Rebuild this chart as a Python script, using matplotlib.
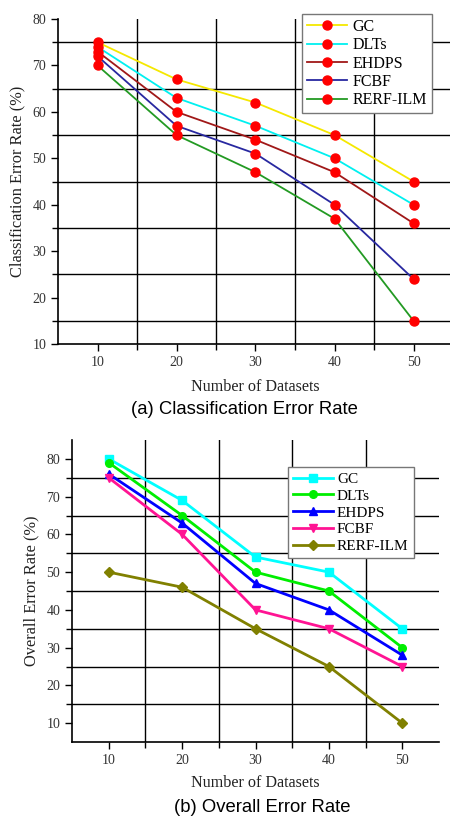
import matplotlib
matplotlib.use("Agg")
import matplotlib.pyplot as plt

datasets = [10, 20, 30, 40, 50]

# (a) Classification error rate
a_names = ["GC", "DLTs", "EHDPS", "FCBF", "RERF-ILM"]
a_gc = [75, 67, 62, 55, 45]
a_dlts = [74, 63, 57, 50, 40]
a_ehdps = [73, 60, 54, 47, 36]
a_fcbf = [72, 57, 51, 40, 24]
a_rerf = [70, 55, 47, 37, 15]
a_colors = ["#f5e800", "#00f0f0", "#a01818", "#2828a0", "#239a23"]

# (b) Overall error rate
b_names = ["GC", "DLTs", "EHDPS", "FCBF", "RERF-ILM"]
b_gc = [80, 69, 54, 50, 35]
b_dlts = [79, 65, 50, 45, 30]
b_ehdps = [76, 63, 47, 40, 28]
b_fcbf = [75, 60, 40, 35, 25]
b_rerf = [50, 46, 35, 25, 10]
b_colors = ["#00ffff", "#00ee00", "#0000ff", "#ff1493", "#808000"]
b_markers = ["s", "o", "^", "v", "D"]

serif = ["Liberation Serif", "DejaVu Serif"]
sans = ["Liberation Sans", "DejaVu Sans"]

fig = plt.figure(figsize=(4.5, 8.17), dpi=100)
W, H = 450, 817


def px_axes(l, t, r, b):
    return fig.add_axes([l / W, 1 - b / H, (r - l) / W, (b - t) / H])


def style(ax, ylim, yticks):
    ax.set_xlim(5, 55)
    ax.set_ylim(*ylim)
    ax.set_xticks(datasets)
    ax.set_xticks([15, 25, 35, 45], minor=True)
    ax.set_yticks(yticks)
    ax.set_yticks([15, 25, 35, 45, 55, 65, 75], minor=True)
    ax.grid(which="minor", color="black", linewidth=1.0)
    ax.grid(which="major", visible=False)
    for s in ["top", "right"]:
        ax.spines[s].set_visible(False)
    for s in ["left", "bottom"]:
        ax.spines[s].set_linewidth(1.2)
    ax.tick_params(which="major", direction="out", length=5, width=1, labelsize=10)
    ax.tick_params(which="minor", direction="out", length=4, width=1)
    for lab in ax.get_xticklabels() + ax.get_yticklabels():
        lab.set_family(serif)
        lab.set_color("#333333")
    ax.set_axisbelow(True)


# ---- (a)
ax1 = px_axes(58, 19, 453, 344)
a_series = [a_gc, a_dlts, a_ehdps, a_fcbf, a_rerf]
for name, vals, c in zip(a_names, a_series, a_colors):
    ax1.plot(datasets, vals, color=c, linewidth=1.3, marker="o", markersize=6.5,
             markerfacecolor="#ff0000", markeredgecolor="#ff0000", label=name,
             clip_on=False, zorder=3)
style(ax1, (10, 80), [10, 20, 30, 40, 50, 60, 70, 80])
ax1.set_ylabel("Classification Error Rate (%)", family=serif, fontsize=11.8, color="#222222",
               labelpad=5)
ax1.set_xlabel("Number of Datasets", family=serif, fontsize=11.6, color="#222222", labelpad=7)
leg1 = ax1.legend(loc="upper left", bbox_to_anchor=(302 / W, 1 - 14 / H),
                  bbox_transform=fig.transFigure, prop={"family": serif, "size": 11.5},
                  fancybox=False, edgecolor="#777777", framealpha=1,
                  handlelength=2.5, handletextpad=0.35, labelspacing=0.15,
                  borderpad=0.3, borderaxespad=0)
leg1.get_frame().set_linewidth(1.0)
fig.text(244 / W, 1 - 410 / H, "(a) Classification Error Rate", family=sans,
         fontsize=13.3, ha="center", va="center")

# ---- (b)
ax2 = px_axes(72, 440, 439, 742)
b_series = [b_gc, b_dlts, b_ehdps, b_fcbf, b_rerf]
for name, vals, c, m in zip(b_names, b_series, b_colors, b_markers):
    ax2.plot(datasets, vals, color=c, linewidth=2.0, marker=m, markersize=5.5,
             markerfacecolor=c, markeredgecolor=c, label=name, zorder=3)
style(ax2, (5, 85), [10, 20, 30, 40, 50, 60, 70, 80])
ax2.set_ylabel("Overall Error Rate (%)", family=serif, fontsize=11.8, color="#222222",
               labelpad=5)
ax2.set_xlabel("Number of Datasets", family=serif, fontsize=11.6, color="#222222", labelpad=6)
leg2 = ax2.legend(loc="upper left", bbox_to_anchor=(288 / W, 1 - 467 / H),
                  bbox_transform=fig.transFigure, prop={"family": serif, "size": 11},
                  fancybox=False, edgecolor="#777777", framealpha=1,
                  handlelength=2.6, handletextpad=0.25, labelspacing=0.2,
                  borderpad=0.35, borderaxespad=0)
leg2.get_frame().set_linewidth(1.0)
fig.text(262 / W, 1 - 807 / H, "(b) Overall Error Rate", family=sans,
         fontsize=13.3, ha="center", va="center")

fig.savefig("out.png", dpi=100, facecolor="white")
